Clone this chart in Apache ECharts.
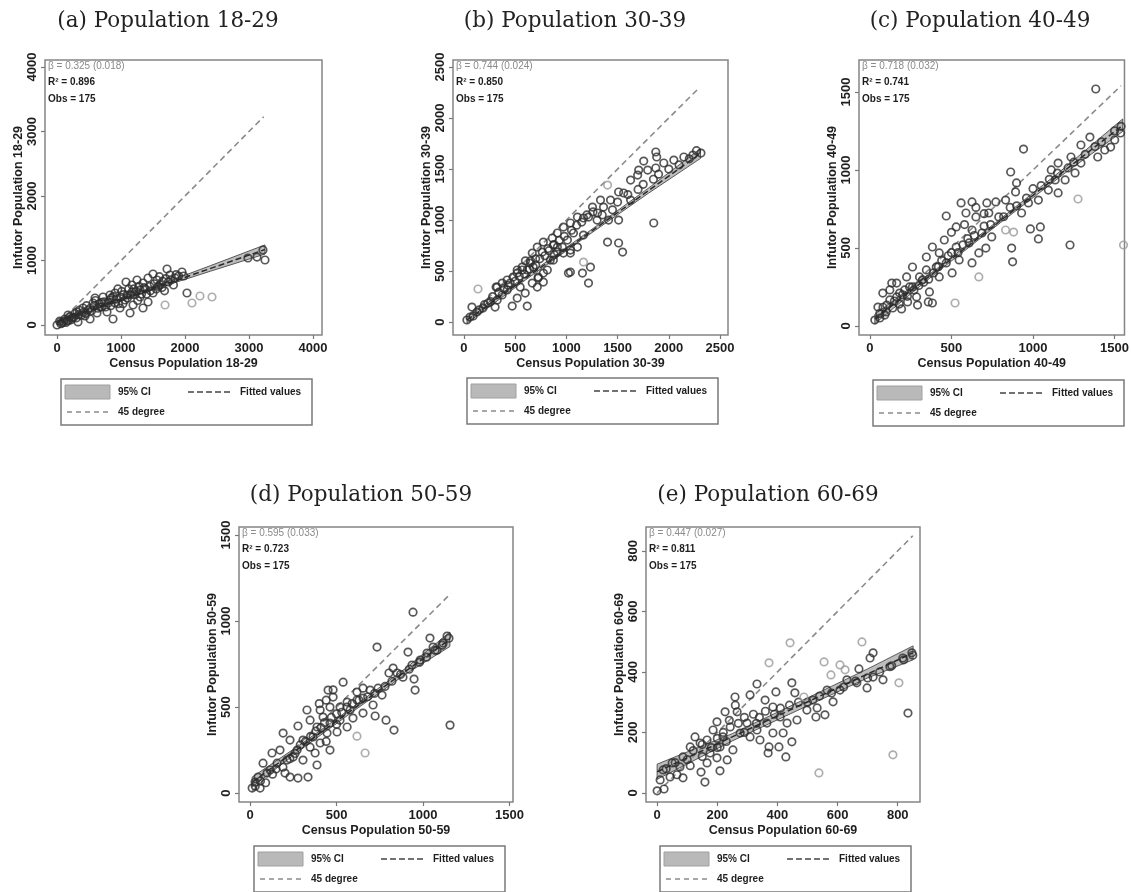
<!DOCTYPE html>
<html>
<head>
<meta charset="utf-8">
<script src="https://cdn.jsdelivr.net/npm/echarts@6/dist/echarts.min.js"></script>
<style>
  html, body { margin: 0; padding: 0; background: #fff; }
  #chart { width: 1132px; height: 892px; }
</style>
</head>
<body>
<div id="chart"></div>
<script>
// ---------- text ----------
const panelTitles = ['(a) Population 18-29', '(b) Population 30-39', '(c) Population 40-49', '(d) Population 50-59', '(e) Population 60-69'];
const xNames = ['Census Population 18-29', 'Census Population 30-39', 'Census Population 40-49', 'Census Population 50-59', 'Census Population 60-69'];
const yNames = ['Infutor Population 18-29', 'Infutor Population 30-39', 'Infutor Population 40-49', 'Infutor Population 50-59', 'Infutor Population 60-69'];
const betaText = ['β = 0.325 (0.018)', 'β = 0.744 (0.024)', 'β = 0.718 (0.032)', 'β = 0.595 (0.033)', 'β = 0.447 (0.027)'];
const r2Text = ['R² = 0.896', 'R² = 0.850', 'R² = 0.741', 'R² = 0.723', 'R² = 0.811'];
const obsText = ['Obs = 175', 'Obs = 175', 'Obs = 175', 'Obs = 175', 'Obs = 175'];
const legendLabels = ['95% CI', 'Fitted values', '45 degree'];

// ---------- tick labels ----------
const ticksA = [0, 1000, 2000, 3000, 4000];
const ticksB = [0, 500, 1000, 1500, 2000, 2500];
const ticksC = [0, 500, 1000, 1500];
const ticksD = [0, 500, 1000, 1500];
const ticksE = [0, 200, 400, 600, 800];

// ---------- panel (a) 18-29 ----------
const pointsA = [[0,0],[78,31],[40,60],[120,90],[156,62],[172,155],[200,130],[234,109],[280,180],[313,202],[328,47],[350,230],[406,264],[438,140],[460,300],[516,93],[520,260],[563,341],[594,419],[600,380],[625,186],[672,279],[700,350],[719,434],[760,280],[781,202],[828,388],[828,465],[850,420],[875,93],[906,341],[906,496],[950,560],[984,264],[1000,430],[1030,330],[1063,388],[1078,667],[1094,465],[1120,560],[1141,186],[1172,512],[1172,620],[1188,310],[1220,470],[1250,698],[1260,380],[1297,434],[1297,543],[1344,264],[1344,651],[1380,560],[1400,480],[1422,357],[1422,729],[1450,600],[1500,496],[1500,791],[1550,560],[1563,698],[1600,750],[1610,620],[1650,680],[1680,530],[1719,868],[1740,667],[1766,775],[1820,620],[1844,729],[1900,760],[1953,822],[2031,496],[2984,1039],[3125,1054],[3219,1163],[3250,1008],
  [60,20],[100,50],[140,40],[180,70],[220,80],[260,120],[300,110],[340,160],[380,150],[420,200],[450,180],[480,230],[540,220],[580,300],[640,260],[660,330],[700,280],[740,360],[800,340],[840,300],[880,440],[930,400],[960,330],[1010,520],[1040,470],[1100,420],[1150,470],[1200,560],[1240,520],[1280,600],[1320,480],[1360,580],[1460,530],[1520,640],[1580,600],[1640,580],[1700,720],[1780,700],[1860,780],[1980,760]];
const pointsALight = [[1688,310],[2109,341],[2234,450],[2422,434]];
const fitA = [[0,50],[3250,1170]];
const ciA = [[0,10,90],[800,310,342],[1600,580,624],[2400,835,921],[3250,1100,1242]];
const diagA = [[20,20],[3230,3230]];

// ---------- panel (b) 30-39 ----------
const pointsB = [[29,20],[59,49],[78,147],[127,98],[186,137],[235,186],[304,147],[324,216],[314,343],[373,265],[422,314],[471,157],[520,235],[451,382],[549,343],[618,157],[598,284],[667,382],[725,431],[716,343],[775,480],[520,480],[569,510],[676,539],[873,608],[1020,480],[1039,706],[912,735],[1873,1667],[1882,1618],[1873,1510],[1755,1578],[1706,1490],[1853,971],[1510,1275],[1559,1265],[1500,1176],[1510,1000],[1402,784],[1510,775],[1549,686],[1333,1196],[1363,1127],[1255,1127],[1167,1020],[1108,1029],[1216,1029],[1039,971],[971,931],[912,873],[1010,804],[1069,873],[1167,853],[961,735],[863,824],[775,784],[765,686],[716,735],[667,676],[647,578],[618,510],[569,539],[520,510],[480,441],[422,412],[373,382],[324,343],[843,608],[912,686],[1039,676],[1108,735],[814,510],[725,441],[775,392],[1039,490],[1157,480],[1235,539],[1216,382],[971,676],[873,755],[1304,1069],[1412,1000],[1431,1196],[1627,1392],[1696,1441],[1794,1490],[1951,1559],[2049,1588],[2147,1618],[2235,1637],[2314,1657],[1627,1196],
  [90,60],[150,120],[200,170],[260,200],[280,250],[340,290],[390,330],[430,360],[500,400],[540,450],[590,470],[640,520],[700,560],[740,620],[790,650],[830,700],[880,760],[930,800],[980,840],[1050,900],[1100,950],[1150,980],[1200,1050],[1260,1080],[1300,1000],[1350,1050],[1450,1100],[1600,1250],[1700,1300],[1750,1350],[1850,1400],[1900,1450],[2000,1500],[2100,1540],[2200,1600],[2270,1680],[600,600],[650,600],[700,620],[820,720],[880,660]];
const pointsBLight = [[137,324],[1402,1343],[1167,588]];
const fitB = [[30,20],[2310,1653]];
const ciB = [[30,-10,50],[600,412,444],[1200,842,874],[1800,1262,1312],[2310,1605,1700]];
const diagB = [[20,20],[2300,2300]];

// ---------- panel (c) 40-49 ----------
const pointsC = [[1385,1519],[942,1134],[1154,1044],[863,987],[1215,1013],[1258,981],[1349,1211],[1294,1160],[1233,1083],[1112,1000],[1154,853],[899,917],[893,859],[832,807],[772,795],[717,789],[626,795],[559,789],[589,724],[468,705],[650,699],[729,724],[790,699],[529,635],[626,615],[687,596],[747,571],[984,622],[1045,635],[1033,558],[869,499],[875,411],[1227,519],[456,551],[529,506],[608,532],[668,468],[711,499],[425,468],[383,506],[346,442],[468,404],[547,423],[626,404],[407,378],[346,359],[261,378],[304,314],[425,314],[504,340],[225,314],[164,275],[122,231],[79,211],[182,211],[243,250],[930,724],[972,789],[1033,807],[1094,871],[1136,936],[1197,936],[1294,1044],[1397,1083],[1440,1128],[1501,1192],[1537,1237],[1476,1147],[358,154],[383,147],[292,134],[194,109],[30,38],[61,51],[91,70],[49,121],[122,167],[103,134],[140,115],[164,186],[134,275],[213,231],[261,250],[286,186],[322,295],[231,154],[365,218],
  [60,80],[80,120],[100,90],[150,160],[180,140],[200,200],[230,190],[270,230],[300,260],[330,280],[360,300],[390,340],[420,380],[440,420],[480,450],[500,470],[540,470],[570,520],[600,560],[640,580],[700,640],[740,650],[820,700],[860,760],[900,770],[960,820],[1000,880],[1050,900],[1100,940],[1150,980],[1250,1050],[1320,1100],[1380,1150],[1420,1180],[1500,1250],[1540,1280],[580,650],[650,760],[700,720],[500,600]];
const pointsCLight = [[832,615],[881,602],[1276,814],[1555,519],[668,314],[522,147]];
const fitC = [[30,45],[1550,1287]];
const ciC = [[30,15,75],[400,335,359],[800,662,686],[1200,983,1019],[1550,1247,1327]];
const diagC = [[30,30],[1540,1540]];

// ---------- panel (d) 50-59 ----------
const pointsD = [[942,1052],[734,849],[913,820],[1040,901],[1058,849],[1023,814],[983,773],[936,744],[1139,913],[1116,872],[1081,831],[827,727],[803,698],[850,698],[884,674],[948,663],[954,599],[1156,395],[723,448],[786,424],[832,366],[740,610],[694,599],[653,610],[653,552],[711,512],[618,541],[561,529],[538,645],[451,599],[480,558],[520,500],[578,483],[462,500],[405,483],[422,442],[462,407],[520,424],[561,384],[503,355],[445,349],[387,384],[347,424],[329,483],[277,390],[364,326],[405,291],[462,250],[387,163],[335,93],[277,87],[306,192],[272,250],[231,308],[191,349],[249,209],[214,192],[202,116],[231,93],[173,250],[127,233],[156,174],[75,174],[98,116],[46,93],[29,64],[12,29],[58,29],[116,134],[347,267],[306,308],[376,233],[595,436],[653,465],[618,587],[763,570],
  [30,40],[60,70],[90,60],[130,110],[150,140],[190,150],[230,200],[260,230],[290,280],[320,300],[350,330],[380,360],[410,380],[430,410],[470,440],[500,460],[530,470],[560,500],[590,520],[630,540],[680,560],[720,580],[780,620],[820,650],[870,690],[920,720],[980,760],[1020,790],[1070,830],[1110,860],[1150,900],[400,520],[440,540],[480,600],[500,400],[440,300]];
const pointsDLight = [[618,331],[665,233]];
const fitD = [[12,64],[1155,894]];
const ciD = [[12,35,93],[300,258,288],[600,478,504],[900,692,726],[1155,852,936]];
const diagD = [[12,12],[1160,1160]];

// ---------- panel (e) 60-69 ----------
const pointsE = [[718,463],[708,446],[671,410],[834,264],[751,374],[332,360],[448,364],[458,331],[395,334],[259,317],[309,324],[226,268],[359,307],[532,281],[528,251],[558,258],[585,301],[448,169],[428,119],[372,152],[369,132],[405,152],[209,73],[159,36],[146,69],[86,50],[0,7],[23,13],[50,99],[126,185],[186,208],[199,235],[266,268],[365,231],[332,208],[299,231],[276,198],[243,218],[219,185],[209,152],[176,132],[166,99],[199,116],[86,119],[110,152],[76,86],[20,76],[43,53],[10,43],[66,60],[143,165],[166,175],[385,284],[409,251],[432,231],[465,241],[419,198],[385,198],[342,175],[309,185],[498,274],[518,307],[608,340],[664,364],[718,383],[774,417],[817,446],[847,463],[698,347],[631,374],[565,340],[252,142],[233,109],
  [30,80],[60,100],[100,110],[120,140],[150,160],[180,150],[200,180],[220,200],[240,240],[270,230],[290,250],[320,260],[340,250],[360,270],[390,260],[410,280],[440,290],[470,300],[500,300],[540,320],[580,330],[620,350],[660,370],[700,380],[740,400],[780,420],[820,440],[850,455],[260,290],[290,200],[330,230],[200,150],[230,170],[150,120],[110,90]];
const pointsELight = [[442,496],[372,430],[681,499],[555,433],[608,423],[625,407],[578,390],[804,364],[488,317],[784,126],[538,66]];
const fitE = [[0,70],[851,463]];
const ciE = [[0,45,95],[250,172,196],[500,288,314],[700,380,410],[851,440,486]];
const diagE = [[0,0],[850,850]];

// ---------- assembly ----------
const panels = [
  { pts: pointsA, light: pointsALight, fit: fitA, ci: ciA, diag: diagA, xt: ticksA, yt: ticksA },
  { pts: pointsB, light: pointsBLight, fit: fitB, ci: ciB, diag: diagB, xt: ticksB, yt: ticksB },
  { pts: pointsC, light: pointsCLight, fit: fitC, ci: ciC, diag: diagC, xt: ticksC, yt: ticksC },
  { pts: pointsD, light: pointsDLight, fit: fitD, ci: ciD, diag: diagD, xt: ticksD, yt: ticksD },
  { pts: pointsE, light: pointsELight, fit: fitE, ci: ciE, diag: diagE, xt: ticksE, yt: ticksE }
];

// plot boxes, axis extents and where titles / legends sit
const layout = [
  { grid: { left: 45,  top: 60,  width: 277, height: 275 }, x: [-188, 4141], y: [-155, 4109], title: [168, 21],  legend: [61, 379] },
  { grid: { left: 453, top: 60,  width: 275, height: 275 }, x: [-107, 2578], y: [-127, 2569], title: [575, 21],  legend: [467, 378] },
  { grid: { left: 859, top: 60,  width: 268, height: 275 }, x: [-67, 1561],  y: [-58, 1705],  title: [980, 21],  legend: [873, 380] },
  { grid: { left: 239, top: 527, width: 274, height: 275 }, x: [-64, 1520],  y: [-52, 1547],  title: [361, 495], legend: [254, 846] },
  { grid: { left: 646, top: 527, width: 274, height: 275 }, x: [-37, 874],   y: [-30, 879],   title: [768, 495], legend: [660, 846] }
];

const SANS = '"Liberation Sans", Arial, sans-serif';
const SERIF = '"DejaVu Serif", "Liberation Serif", serif';
const INK = '#1e1e1e';
const plain = v => String(v);

const grids = [], xAxes = [], yAxes = [], series = [], graphics = [];

function bandRenderer(rows) {
  return function (params, api) {
    if (params.dataIndex !== 0) return { type: 'group', children: [] };
    const upper = rows.map(r => api.coord([r[0], r[2]]));
    const lower = rows.map(r => api.coord([r[0], r[1]])).reverse();
    return {
      type: 'polygon',
      shape: { points: upper.concat(lower) },
      style: { fill: '#bdbdbd', stroke: '#4a4a4a', lineWidth: 0.9 }
    };
  };
}

function legendGroup(x0, y0) {
  const font = 'bold 10px ' + SANS;
  return {
    type: 'group', x: x0, y: y0, children: [
      { type: 'rect', shape: { x: 0, y: 0, width: 251, height: 46 }, style: { fill: '#fff', stroke: '#7a7a7a', lineWidth: 1.5 } },
      { type: 'rect', shape: { x: 4, y: 6, width: 45, height: 14 }, style: { fill: '#b9b9b9', stroke: '#a0a0a0', lineWidth: 1 } },
      { type: 'text', x: 57, y: 13, style: { text: legendLabels[0], font: font, fill: INK, verticalAlign: 'middle' } },
      { type: 'line', shape: { x1: 127, y1: 13, x2: 171, y2: 13 }, style: { stroke: '#444', lineWidth: 1.5, lineDash: [6, 3] } },
      { type: 'text', x: 179, y: 13, style: { text: legendLabels[1], font: font, fill: INK, verticalAlign: 'middle' } },
      { type: 'line', shape: { x1: 6, y1: 33, x2: 49, y2: 33 }, style: { stroke: '#8a8a8a', lineWidth: 1.5, lineDash: [5, 4] } },
      { type: 'text', x: 57, y: 33, style: { text: legendLabels[2], font: font, fill: INK, verticalAlign: 'middle' } }
    ]
  };
}

panels.forEach((p, i) => {
  const L = layout[i];
  grids.push(Object.assign({ show: true, borderColor: '#858585', borderWidth: 1.5, backgroundColor: '#fff' }, L.grid));

  xAxes.push({
    gridIndex: i, type: 'value', min: L.x[0], max: L.x[1],
    axisLine: { show: false, onZero: false }, splitLine: { show: false },
    axisTick: { show: true, customValues: p.xt, length: 4, lineStyle: { color: '#777', width: 1.2 } },
    axisLabel: { customValues: p.xt, formatter: plain, margin: 7, fontSize: 13, fontWeight: 'bold', fontFamily: SANS, color: INK },
    name: xNames[i], nameLocation: 'middle', nameGap: 22,
    nameTextStyle: { fontSize: 12.5, fontWeight: 'bold', fontFamily: SANS, color: INK }
  });
  yAxes.push({
    gridIndex: i, type: 'value', min: L.y[0], max: L.y[1],
    axisLine: { show: false, onZero: false }, splitLine: { show: false },
    axisTick: { show: true, customValues: p.yt, length: 4, lineStyle: { color: '#777', width: 1.2 } },
    axisLabel: { customValues: p.yt, formatter: plain, rotate: 90, margin: 6, fontSize: 13, fontWeight: 'bold', fontFamily: SANS, color: INK },
    name: yNames[i], nameLocation: 'middle', nameRotate: 90, nameGap: 19,
    nameTextStyle: { fontSize: 12.5, fontWeight: 'bold', fontFamily: SANS, color: INK }
  });

  series.push({
    name: legendLabels[0], type: 'custom', xAxisIndex: i, yAxisIndex: i, z: 2,
    data: p.ci, encode: { x: 0, y: [1, 2] }, renderItem: bandRenderer(p.ci), clip: true, silent: true
  });
  series.push({
    name: legendLabels[2], type: 'line', xAxisIndex: i, yAxisIndex: i, z: 3,
    data: p.diag, symbol: 'none', lineStyle: { color: '#8a8a8a', width: 1.6, type: [6, 4] }
  });
  series.push({
    name: 'points', type: 'scatter', xAxisIndex: i, yAxisIndex: i, z: 4,
    data: p.pts, symbol: 'circle', symbolSize: 7.5,
    itemStyle: { color: 'rgba(0,0,0,0)', borderColor: '#2e2e2e', borderWidth: 1.7 }
  });
  series.push({
    name: 'points (light)', type: 'scatter', xAxisIndex: i, yAxisIndex: i, z: 4,
    data: p.light, symbol: 'circle', symbolSize: 7.5,
    itemStyle: { color: 'rgba(0,0,0,0)', borderColor: '#9a9a9a', borderWidth: 1.7 }
  });
  series.push({
    name: legendLabels[1], type: 'line', xAxisIndex: i, yAxisIndex: i, z: 5,
    data: p.fit, symbol: 'none', lineStyle: { color: '#2a2a2a', width: 1.5, type: [6, 3] }
  });

  // panel heading
  graphics.push({ type: 'text', x: L.title[0], y: L.title[1],
    style: { text: panelTitles[i], font: '21.5px ' + SERIF, fill: '#222', align: 'center', verticalAlign: 'middle' } });

  // statistics block in the upper-left corner of the plot
  const gx = L.grid.left + 3, gy = L.grid.top;
  graphics.push({ type: 'text', x: gx, y: gy + 6, z: 10,
    style: { text: betaText[i], font: '10px ' + SANS, fill: '#8a8a8a', verticalAlign: 'middle' } });
  graphics.push({ type: 'text', x: gx, y: gy + 22, z: 10,
    style: { text: r2Text[i], font: 'bold 10px ' + SANS, fill: INK, verticalAlign: 'middle' } });
  graphics.push({ type: 'text', x: gx, y: gy + 39, z: 10,
    style: { text: obsText[i], font: 'bold 10px ' + SANS, fill: INK, verticalAlign: 'middle' } });

  graphics.push(legendGroup(L.legend[0], L.legend[1]));
});

const chart = echarts.init(document.getElementById('chart'), null, { renderer: 'canvas' });
chart.setOption({
  animation: false,
  backgroundColor: '#fff',
  grid: grids,
  xAxis: xAxes,
  yAxis: yAxes,
  series: series,
  graphic: graphics
});
</script>
</body>
</html>
